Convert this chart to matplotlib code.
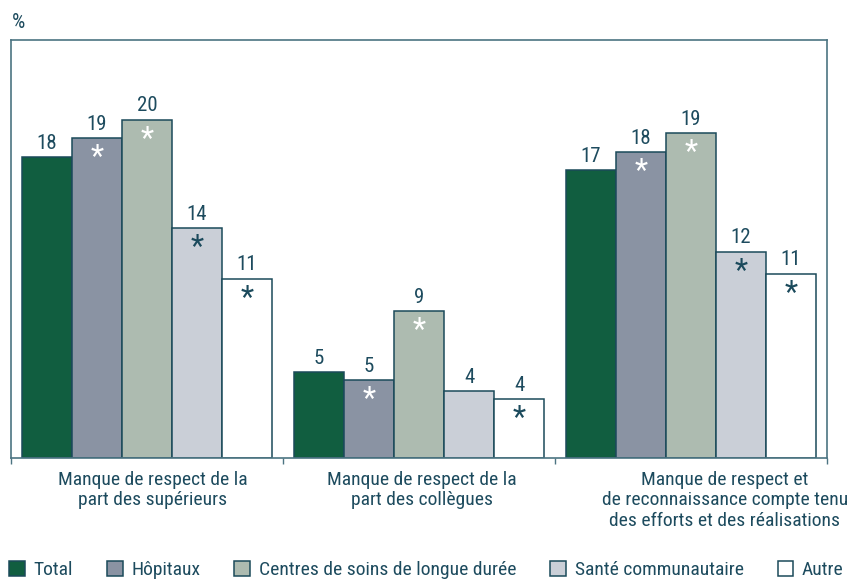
import numpy as np
import matplotlib
matplotlib.use("Agg")
import matplotlib.pyplot as plt
from matplotlib.patches import Patch

plt.rcParams['font.family'] = ['Roboto Condensed', 'DejaVu Sans']

# categories and series
categories = ["Manque de respect de la\npart des supérieurs",
              "Manque de respect de la\npart des collègues",
              "Manque de respect et\nde reconnaissance compte tenu\ndes efforts et des réalisations"]
series = ["Total", "Hôpitaux", "Centres de soins de longue durée",
          "Santé communautaire", "Autre"]

total = [17.8, 5.1, 17.0]
hopitaux = [18.9, 4.6, 18.1]
centres = [20.0, 8.7, 19.2]
sante = [13.6, 3.95, 12.2]
autre = [10.6, 3.5, 10.9]

labels_total = [18, 5, 17]
labels_hopitaux = [19, 5, 18]
labels_centres = [20, 9, 19]
labels_sante = [14, 4, 12]
labels_autre = [11, 4, 11]

# significance stars (True = marked with *)
star_total = [False, False, False]
star_hopitaux = [True, True, True]
star_centres = [True, True, True]
star_sante = [True, False, True]
star_autre = [True, True, True]

colors = ["#115e40", "#8a93a3", "#adbbb0", "#cacfd7", "#ffffff"]
star_colors = ["white", "white", "white", "#1b4a5c", "#1b4a5c"]
txt = "#1d4b5e"
edge = "#1b4a5a"

values = [total, hopitaux, centres, sante, autre]
labels = [labels_total, labels_hopitaux, labels_centres, labels_sante, labels_autre]
stars = [star_total, star_hopitaux, star_centres, star_sante, star_autre]

fig = plt.figure(figsize=(8.49, 5.79), dpi=100)
ax = fig.add_axes([11/849, 121/579, 816/849, 418/579])

x = np.arange(len(categories))
w = 0.184
for i in range(5):
    pos = x + (i - 2) * w
    ax.bar(pos, values[i], width=w, color=colors[i], edgecolor=edge, linewidth=1.1, zorder=2)
    for j in range(len(x)):
        ax.annotate(str(labels[i][j]), (pos[j], values[i][j]), xytext=(0, 3),
                    textcoords="offset points", ha="center", va="bottom",
                    fontsize=15, color=txt)
        if stars[i][j]:
            ax.annotate("*", (pos[j], values[i][j]), xytext=(0, -14),
                        textcoords="offset points", ha="center", va="center",
                        fontsize=22, color=star_colors[i])

ax.set_xlim(-0.5, 2.5)
ax.set_ylim(0, 24.7)
ax.set_yticks([])
ax.set_xticks([-0.5, 0.5, 1.5, 2.5])
ax.set_xticklabels([])
ax.tick_params(axis="x", direction="out", length=4, color="#4c7482", width=1)
for s in ax.spines.values():
    s.set_color("#4c7482")
    s.set_linewidth(1.2)

label_shift = [0.02, 0.01, 0.125]
for j, cat in enumerate(categories):
    ax.text(x[j] + label_shift[j], -0.75, cat, ha="center", va="top",
            fontsize=14, color=txt, linespacing=1.2)

fig.text(12/849, 1 - 22/579, "%", ha="left", va="center", fontsize=15, color=txt)

handles = [Patch(facecolor=c, edgecolor=edge, linewidth=1.1) for c in colors]
fig.legend(handles, series, loc="lower left", bbox_to_anchor=(0.004, -0.01), ncol=5,
           frameon=False, fontsize=14, handlelength=0.8, handleheight=0.8,
           handletextpad=0.45, columnspacing=1.75, labelcolor=txt,
           borderaxespad=0.0, borderpad=0.3)

fig.savefig("out.png", dpi=100)
